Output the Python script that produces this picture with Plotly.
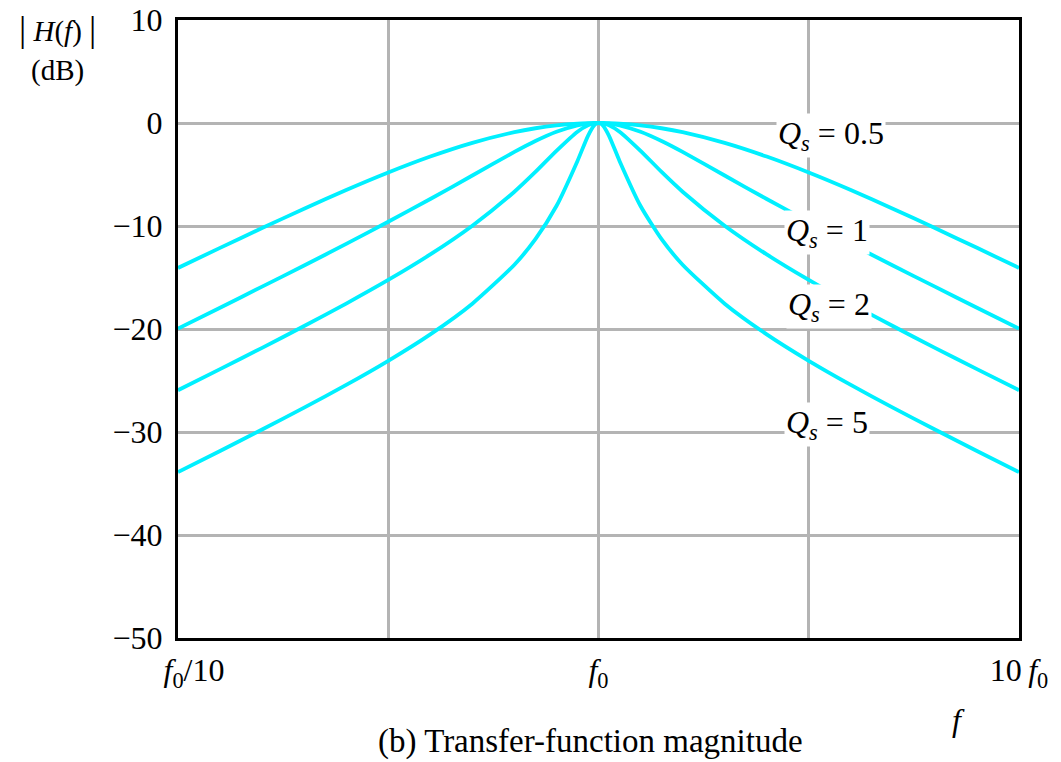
import plotly.graph_objects as go

# frequency ratio f/f0 (log-spaced, symmetric about f0)
freq_ratio = [0.1, 0.1259, 0.1585, 0.1995, 0.2512, 0.3162, 0.3981, 0.5012, 0.6310,
              0.7079, 0.7943, 0.8913, 0.9441, 0.9772, 0.9886, 1.0,
              1.0116, 1.0233, 1.0593, 1.1220, 1.2589, 1.4125, 1.5849, 1.9953,
              2.5119, 3.1623, 3.9811, 5.0119, 6.3096, 7.9433, 10.0]

mag_q05 = [-14.07, -12.12, -10.20, -8.32, -6.51, -4.81, -3.26, -1.93, -0.89,
           -0.51, -0.23, -0.057, -0.014, -0.002, -0.0006, 0.0,
           -0.0006, -0.002, -0.014, -0.057, -0.23, -0.51, -0.89, -1.93,
           -3.26, -4.81, -6.51, -8.32, -10.20, -12.12, -14.07]
mag_q1 = [-19.96, -17.93, -15.89, -13.83, -11.74, -9.59, -7.38, -5.10, -2.81,
          -1.75, -0.85, -0.23, -0.057, -0.009, -0.0023, 0.0,
          -0.0023, -0.009, -0.057, -0.23, -0.85, -1.75, -2.81, -5.10,
          -7.38, -9.59, -11.74, -13.83, -15.89, -17.93, -19.96]
mag_q2 = [-25.94, -23.90, -21.83, -19.71, -17.53, -15.24, -12.76, -9.97, -6.67,
          -4.75, -2.70, -0.84, -0.22, -0.037, -0.009, 0.0,
          -0.009, -0.037, -0.22, -0.84, -2.70, -4.75, -6.67, -9.97,
          -12.76, -15.24, -17.53, -19.71, -21.83, -23.90, -25.94]
mag_q5 = [-33.89, -31.84, -29.76, -27.63, -25.43, -23.09, -20.52, -17.54, -13.76,
          -11.28, -8.06, -3.68, -1.24, -0.22, -0.057, 0.0,
          -0.057, -0.22, -1.24, -3.68, -8.06, -11.28, -13.76, -17.54,
          -20.52, -23.09, -25.43, -27.63, -29.76, -31.84, -33.89]

series = [mag_q05, mag_q1, mag_q2, mag_q5]
q_labels = ["0.5", "1", "2", "5"]
q_label_logx = [0.552, 0.543, 0.548, 0.543]
q_label_y = [-1.2, -10.6, -17.8, -29.3]

x_tickvals = [0.1, 0.3162, 1.0, 3.1623, 10.0]
x_ticktext = ["&nbsp;&nbsp;&nbsp;&nbsp;<i>f</i><sub>0</sub>/10", "", "<i>f</i><sub>0</sub>", "",
              "10\u2009<i>f</i><sub>0</sub>"]
y_tickvals = [10, 0, -10, -20, -30, -40, -50]
y_ticktext = ["10", "0", "\u221210", "\u221220", "\u221230", "\u221240", "\u221250"]

FONT = "Liberation Serif"
CYAN = "#00F0FF"

fig = go.Figure()
for ys in series:
    fig.add_trace(go.Scatter(x=freq_ratio, y=ys, mode="lines",
                             line=dict(color=CYAN, width=3.8, shape="spline", smoothing=0.6),
                             showlegend=False, hoverinfo="skip"))

for lab, lx, ly in zip(q_labels, q_label_logx, q_label_y):
    fig.add_annotation(x=lx, y=ly, xref="x", yref="y",
                       text="<i>Q</i><sub><i>s</i></sub> = " + lab,
                       showarrow=False, bgcolor="white", borderpad=1,
                       xanchor="center", yanchor="middle",
                       font=dict(family=FONT, size=32, color="black"))

# y-axis title (two lines)
fig.add_annotation(x=-0.1427, y=0.9854, xref="paper", yref="paper",
                   text="<span style='font-size:36px'>|</span> <i>H</i>(<i>f</i>) "
                        "<span style='font-size:36px'>|</span>",
                   showarrow=False, xanchor="center", yanchor="middle",
                   font=dict(family=FONT, size=29, color="black"))
fig.add_annotation(x=-0.1427, y=0.919, xref="paper", yref="paper",
                   text="(dB)", showarrow=False, xanchor="center", yanchor="middle",
                   font=dict(family=FONT, size=29, color="black"))
# x-axis title
fig.add_annotation(x=0.9275, y=-0.1327, xref="paper", yref="paper",
                   text="<i>f</i>", showarrow=False, xanchor="center", yanchor="middle",
                   font=dict(family=FONT, size=32, color="black"))
# caption
fig.add_annotation(x=0.49, y=-0.1667, xref="paper", yref="paper",
                   text="(b) Transfer-function magnitude", showarrow=False,
                   xanchor="center", yanchor="middle",
                   font=dict(family=FONT, size=33, color="black"))

fig.update_xaxes(type="log", range=[-1, 1], tickvals=x_tickvals, ticktext=x_ticktext,
                 showgrid=True, gridcolor="#b4b4b4", gridwidth=2.5,
                 showline=True, linecolor="black", linewidth=3, mirror=True,
                 ticks="", ticklabelstandoff=2, zeroline=False, automargin=False,
                 ticklabeloverflow="allow",
                 tickfont=dict(family=FONT, size=32, color="black"))
fig.update_yaxes(range=[-50, 10], tickvals=y_tickvals, ticktext=y_ticktext,
                 showgrid=True, gridcolor="#b4b4b4", gridwidth=2.5,
                 showline=True, linecolor="black", linewidth=3, mirror=True,
                 ticks="", ticklabelstandoff=6, zeroline=False, automargin=False,
                 ticklabeloverflow="allow",
                 tickfont=dict(family=FONT, size=32, color="black"))

fig.update_layout(width=1053, height=754,
                  margin=dict(l=170, r=42, t=12, b=124),
                  plot_bgcolor="white", paper_bgcolor="white",
                  font=dict(family=FONT, color="black"))

fig.write_html("out.html")
